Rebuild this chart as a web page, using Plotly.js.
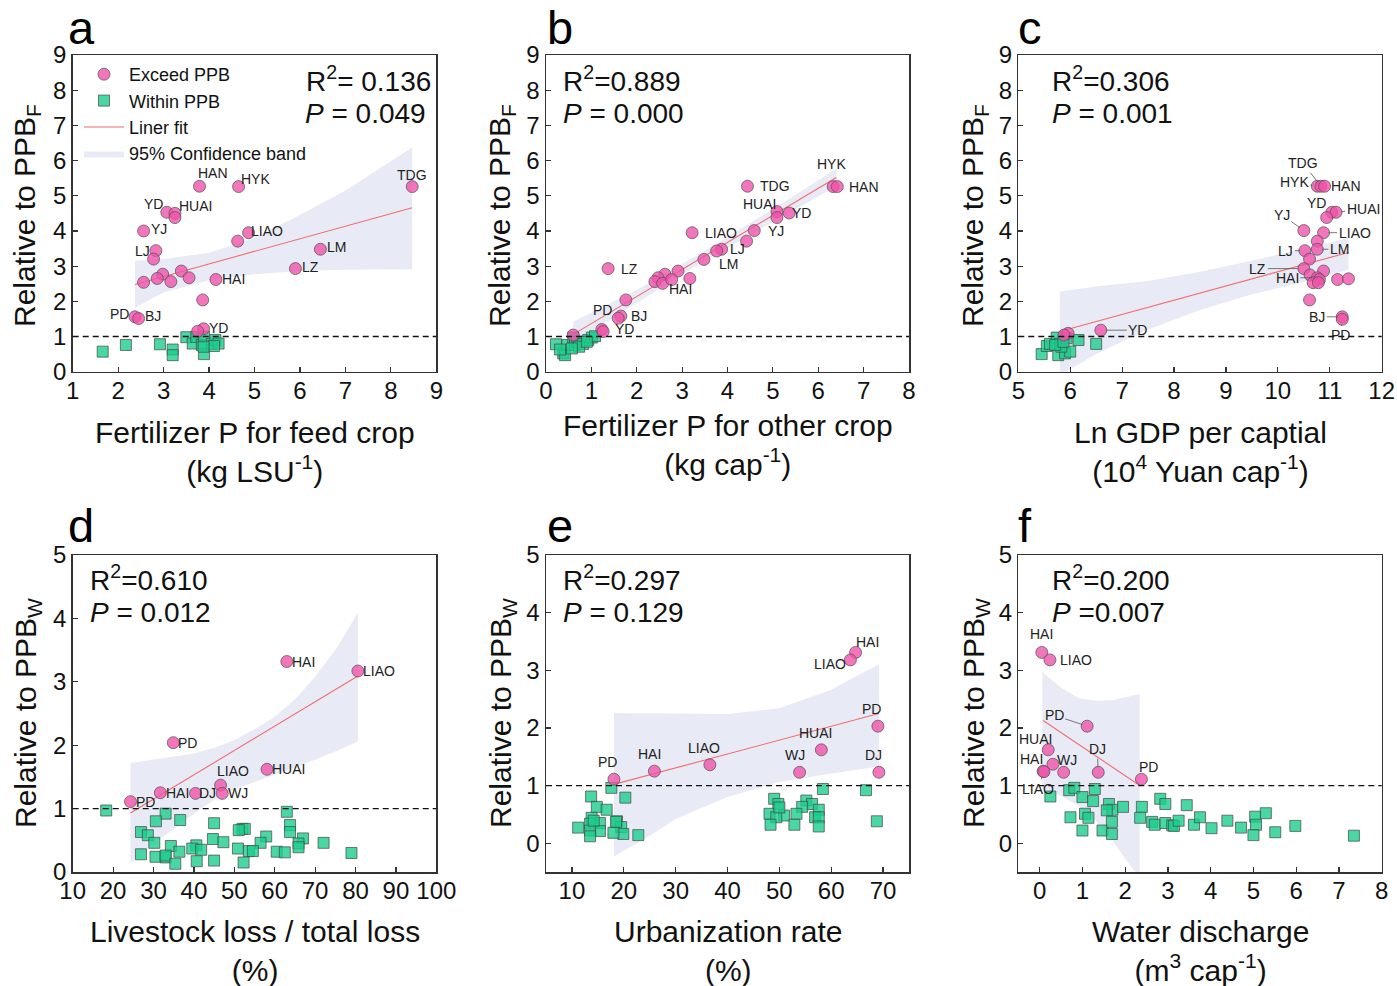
<!DOCTYPE html>
<html>
<head>
<meta charset="utf-8">
<script src="https://cdn.plot.ly/plotly-3.0.1.min.js"></script>
<style>html,body{margin:0;padding:0;background:#fff}#chart{width:1397px;height:986px}</style>
</head>
<body>
<div id="chart"></div>
<script>
// ---------------- DATA ----------------
// Panel a: Fertilizer P for feed crop
const aExName = ['HAN','HYK','TDG','YD','HUAI','','YJ','LIAO','','LM','LJ','','LZ','','','','','','','HAI','','PD','BJ','YD',''];
const aExX = [3.79,4.65,8.47,3.07,3.25,3.25,2.56,4.87,4.63,6.45,2.83,2.78,5.90,3.39,2.98,2.86,3.56,3.16,2.56,4.15,3.86,2.37,2.45,3.88,3.75];
const aExY = [5.27,5.26,5.26,4.53,4.50,4.38,4.00,3.95,3.71,3.48,3.44,3.20,2.93,2.86,2.77,2.65,2.67,2.56,2.54,2.62,2.04,1.56,1.51,1.22,1.15];
const aWiX = [1.66,2.17,2.92,3.20,3.20,3.50,3.64,3.72,3.84,3.89,3.89,4.06,4.14,4.21,4.11,3.88];
const aWiY = [0.57,0.76,0.78,0.63,0.47,0.98,0.80,0.99,0.76,0.99,0.50,0.79,0.90,0.80,0.73,0.71];
const aFitX = [2.37,8.47], aFitY = [2.48,4.66];
const aBandX = [2.37,3,4,5,6,7,8.47];
const aBandHi = [3.15,3.20,3.38,3.80,4.45,5.15,6.37];
const aBandLo = [1.82,2.25,2.60,2.77,2.86,2.90,2.91];

// Panel b: Fertilizer P for other crop
const bExName = ['HYK','HAN','TDG','HUAI','YD','','YJ','LIAO','','LJ','','LM','LZ','','','','','','','HAI','','BJ','PD','YD','',''];
const bExX = [6.33,6.42,4.44,5.09,5.36,5.09,4.59,3.22,4.42,3.87,3.76,3.48,1.37,2.91,2.62,2.47,2.40,2.57,2.77,3.17,1.76,1.65,1.59,1.23,1.26,0.60];
const bExY = [5.26,5.26,5.27,4.55,4.51,4.38,4.01,3.95,3.71,3.48,3.43,3.19,2.93,2.86,2.77,2.67,2.56,2.51,2.62,2.65,2.04,1.58,1.52,1.20,1.14,1.04];
const bWiX = [0.22,0.38,0.42,0.47,0.60,0.64,0.69,0.82,0.93,1.01,1.08,0.73,0.57,0.31,0.90];
const bWiY = [0.78,0.52,0.47,0.76,0.97,0.76,0.85,0.79,0.90,0.97,1.01,0.71,0.66,0.63,0.85];
const bFitX = [0.60,6.40], bFitY = [1.06,5.52];
const bBandX = [0.6,2,3.3,5,6.4];
const bBandHi = [1.42,2.32,3.28,4.62,5.77];
const bBandLo = [0.82,1.96,3.00,4.26,5.27];

// Panel c: Ln GDP per capita
const cExName = ['HYK','TDG','HAN','','HUAI','YD','YJ','LIAO','','LM','LJ','','LZ','','','HAI','','','','','','','BJ','PD','YD','',''];
const cExX = [10.76,10.83,10.90,11.04,11.12,10.94,10.50,10.88,10.76,10.76,10.52,10.61,10.50,10.88,10.62,10.76,10.80,10.68,10.78,11.15,11.36,10.61,11.24,11.24,6.59,5.96,5.88];
const cExY = [5.27,5.27,5.27,4.53,4.53,4.38,4.01,3.95,3.71,3.48,3.44,3.20,2.93,2.86,2.75,2.67,2.62,2.53,2.53,2.62,2.64,2.04,1.56,1.49,1.18,1.09,1.04];
const cWiX = [5.45,5.55,5.61,5.74,5.80,5.77,5.90,6.00,5.83,5.93,6.16,6.50,5.71,5.87];
const cWiY = [0.50,0.73,0.79,0.97,0.79,0.47,0.52,0.57,0.71,0.95,0.90,0.79,0.76,0.85];
const cFitX = [5.80,11.36], cFitY = [1.14,3.39];
const cBandX = [5.8,6.5,7.5,8.5,9.5,10.5,11.36];
const cBandHi = [2.28,2.42,2.58,2.84,3.15,3.50,3.80];
const cBandLo = [-0.10,0.50,1.20,1.75,2.20,2.55,2.90];

// Panel d: Livestock loss / total loss
const dExName = ['HAI','LIAO','PD','HUAI','LIAO','HAI','DJ','WJ','PD'];
const dExX = [63.0,80.6,34.9,58.1,46.6,31.7,40.4,47.0,24.3];
const dExY = [3.32,3.17,2.04,1.62,1.37,1.25,1.24,1.24,1.11];
const dWiX = [18.3,63.0,33.0,30.6,36.6,45.0,63.8,63.8,26.9,28.6,52.0,52.6,51.1,57.9,67.0,44.7,30.2,47.3,56.5,72.1,65.9,65.9,34.3,40.6,39.6,41.8,50.9,53.6,54.6,36.4,60.5,62.5,79.0,26.9,30.5,33.0,33.0,40.7,45.0,52.3,35.4];
const dWiY = [0.97,0.95,0.92,0.80,0.82,0.77,0.74,0.63,0.63,0.58,0.68,0.68,0.66,0.56,0.53,0.52,0.46,0.47,0.46,0.46,0.45,0.39,0.41,0.42,0.37,0.35,0.37,0.33,0.33,0.32,0.32,0.31,0.30,0.28,0.24,0.23,0.26,0.17,0.18,0.15,0.13];
const dFitX = [24.3,80.6], dFitY = [0.93,3.09];
const dBandX = [24.3,30,35,40,45,50,55,60,65,70,75,80.6];
const dBandHi = [1.72,1.77,1.82,1.87,1.96,2.08,2.25,2.45,2.72,3.08,3.50,4.09];
const dBandLo = [0.14,0.45,0.68,0.92,1.14,1.30,1.42,1.53,1.65,1.77,1.90,2.06];

// Panel e: Urbanization rate
const eExName = ['HAI','LIAO','PD','HUAI','LIAO','HAI','WJ','DJ','PD'];
const eExX = [64.7,63.7,69.0,58.1,36.6,25.9,53.9,69.2,18.1];
const eExY = [3.31,3.18,2.03,1.62,1.36,1.25,1.23,1.23,1.11];
const eWiX = [17.6,13.7,20.3,58.4,66.7,14.8,16.7,49.0,49.8,55.2,56.3,54.4,57.6,53.3,48.1,50.9,49.4,56.9,57.6,13.8,18.7,15.4,13.5,48.3,52.9,57.6,68.8,11.2,15.4,13.5,19.5,19.9,18.0,22.8,13.5,18.5,14.2,50.0];
const eWiY = [0.96,0.81,0.79,0.94,0.92,0.63,0.58,0.77,0.68,0.74,0.68,0.63,0.58,0.51,0.51,0.48,0.45,0.45,0.45,0.44,0.38,0.35,0.34,0.32,0.32,0.29,0.38,0.27,0.21,0.22,0.28,0.16,0.18,0.14,0.12,0.37,0.39,0.62];
const eFitX = [18.1,69.2], eFitY = [1.02,2.25];
const eBandX = [18.1,25,30,40,50,60,69.2];
const eBandHi = [2.26,2.26,2.25,2.24,2.34,2.66,3.11];
const eBandLo = [-0.23,0.13,0.42,0.80,1.06,1.21,1.33];

// Panel f: Water discharge
const fExName = ['HAI','LIAO','PD','HUAI','WJ','','HAI','DJ','PD','LIAO'];
const fExX = [0.05,0.24,1.11,0.20,0.31,0.56,0.08,1.37,2.38,0.10];
const fExY = [3.31,3.18,2.03,1.62,1.37,1.23,1.25,1.23,1.11,1.24];
const fWiX = [0.25,0.69,0.81,1.29,1.00,1.25,1.62,1.70,1.57,1.95,2.39,2.82,2.94,3.44,0.72,1.06,1.14,2.35,2.63,2.69,2.94,3.10,3.14,3.25,3.61,3.75,4.02,4.39,4.71,5.04,5.06,5.00,5.29,5.51,5.98,7.35,1.00,1.47,1.69,1.69];
const fWiY = [0.81,0.92,0.96,0.94,0.80,0.73,0.68,0.58,0.57,0.63,0.63,0.77,0.68,0.66,0.45,0.51,0.44,0.44,0.37,0.32,0.35,0.31,0.30,0.39,0.32,0.45,0.26,0.39,0.27,0.46,0.32,0.14,0.52,0.19,0.30,0.13,0.22,0.22,0.37,0.16];
const fFitX = [0.08,2.34], fFitY = [2.13,1.00];
const fBandX = [0.06,0.5,0.9,1.3,1.7,2.0,2.34];
const fBandHi = [2.97,2.70,2.52,2.47,2.48,2.53,2.59];
const fBandLo = [0.94,0.82,0.65,0.40,0.05,-0.27,-0.60];

const statR2 = ['R<sup>2</sup>= 0.136','R<sup>2</sup>=0.889','R<sup>2</sup>=0.306','R<sup>2</sup>=0.610','R<sup>2</sup>=0.297','R<sup>2</sup>=0.200'];
const statP  = ['<i>P</i> = 0.049','<i>P</i> = 0.000','<i>P</i> = 0.001','<i>P</i> = 0.012','<i>P</i> = 0.129','<i>P</i> =0.007'];
const panelLetters = ['a','b','c','d','e','f'];
const xTitles = ['Fertilizer P for feed crop<br>(kg LSU<sup>-1</sup>)','Fertilizer P for other crop<br>(kg cap<sup>-1</sup>)','Ln GDP per captial<br>(10<sup>4</sup> Yuan cap<sup>-1</sup>)','Livestock loss / total loss<br>(%)','Urbanization rate<br>(%)','Water discharge<br>(m<sup>3</sup> cap<sup>-1</sup>)'];
const yTitles = ['Relative to PPB<sub>F</sub>','Relative to PPB<sub>W</sub>'];
const legendNames = ['Exceed PPB','Within PPB','Liner fit','95% Confidence band'];

// ---------------- STYLE / LAYOUT ----------------
const W = 1397, H = 986;
const FONT = 'Liberation Sans, Arial, sans-serif';
const PX = v => v / W, PY = v => 1 - v / H;
const colDom = [[72.7,436.3],[546,909],[1018.3,1381.7]];
const rowDom = [[55,371.7],[555,872]];
const PINK = 'rgba(240,82,170,0.80)', GREEN = 'rgba(28,205,140,0.80)';
const BAND = 'rgba(214,219,236,0.55)';

const panels = [
  {ex:[aExX,aExY,aExName], wi:[aWiX,aWiY], fit:[aFitX,aFitY], band:[aBandX,aBandLo,aBandHi], xr:[1,9], yr:[0,9], xt0:1, xdt:1,
   labels:{0:[13,-13],1:[17,-8],2:[0,-12],3:[-13,-8],4:[21,-7],6:[15,-2],7:[18,-2],9:[16,-2],10:[-13,0],12:[15,-2],19:[18,-1],21:[-15,-3],22:[14,-3],23:[15,-1]}},
  {ex:[bExX,bExY,bExName], wi:[bWiX,bWiY], fit:[bFitX,bFitY], band:[bBandX,bBandLo,bBandHi], xr:[0,8], yr:[0,9], xt0:0, xdt:1,
   labels:{0:[-2,-23],1:[27,0],2:[28,0],3:[-17,-8],4:[12,0],6:[22,0],7:[29,0],9:[16,0],11:[25,5],12:[21,0],19:[-9,11],21:[18,0],22:[-16,-8],23:[23,0]}},
  {ex:[cExX,cExY,cExName], wi:[cWiX,cWiY], fit:[cFitX,cFitY], band:[cBandX,cBandLo,cBandHi], xr:[5,12], yr:[0,9], xt0:5, xdt:1,
   labels:{0:[-23,-4,1],1:[-18,-23,1],2:[21,0],4:[27,-3,1],5:[-10,-15],6:[-22,-16,1],7:[31,0,1],9:[22,0,1],10:[-19,0,1],12:[-46,0,1],15:[-30,0,1],22:[-25,0,1],23:[-2,16,1],24:[37,0,1]}},
  {ex:[dExX,dExY,dExName], wi:[dWiX,dWiY], fit:[dFitX,dFitY], band:[dBandX,dBandLo,dBandHi], xr:[10,100], yr:[0,5], xt0:10, xdt:10,
   labels:{0:[17,0],1:[21,0],2:[14,0],3:[21,0],4:[12,-14],5:[17,0],6:[12,0],7:[16,0],8:[15,0]}},
  {ex:[eExX,eExY,eExName], wi:[eWiX,eWiY], fit:[eFitX,eFitY], band:[eBandX,eBandLo,eBandHi], xr:[5,75], yr:[-0.5,5], xt0:10, xdt:10,
   labels:{0:[12,-10],1:[-20,4],2:[-6,-17],3:[-6,-17],4:[-6,-17],5:[-5,-17],6:[-5,-17],7:[-5,-17],8:[-6,-17]}},
  {ex:[fExX,fExY,fExName], wi:[fWiX,fWiY], fit:[fFitX,fFitY], band:[fBandX,fBandLo,fBandHi], xr:[-0.5,8], yr:[-0.5,5], xt0:0, xdt:1,
   labels:{0:[0,-18],1:[26,0],2:[-33,-11,1],3:[-13,-11,1],4:[14,-4],6:[-12,-12,1],7:[-1,-23,1],8:[7,-12],9:[-6,17,1]}}
];

const traces = [];
const annotations = [];
const shapes = [];
const layout = {
  width: W, height: H, margin: {l:0,r:0,t:0,b:0},
  paper_bgcolor: '#fff', plot_bgcolor: '#fff',
  font: {family: FONT, color: '#111'},
  showlegend: true,
  legend: {x: PX(79), y: PY(56), xanchor: 'left', yanchor: 'top', bgcolor: 'rgba(0,0,0,0)',
           font: {family: FONT, size: 18, color: '#111'}, tracegroupgap: 0, itemwidth: 40},
  annotations: annotations, shapes: shapes
};

panels.forEach((p, k) => {
  const n = k + 1;
  const xa = 'x' + (n === 1 ? '' : n), ya = 'y' + (n === 1 ? '' : n);
  const col = k % 3, row = Math.floor(k / 3);
  const axBase = {showline: true, mirror: true, linecolor: '#333', linewidth: 1.5,
    ticks: 'inside', ticklen: 5, tickwidth: 1.2, tickcolor: '#333', showgrid: false, zeroline: false,
    tickfont: {family: FONT, size: 24, color: '#111'}, automargin: false, fixedrange: true};
  layout['xaxis' + (n === 1 ? '' : n)] = Object.assign({}, axBase, {
    domain: [PX(colDom[col][0]), PX(colDom[col][1])], range: p.xr, tick0: p.xt0, dtick: p.xdt, anchor: ya,
    ticklabelstandoff: -3});
  layout['yaxis' + (n === 1 ? '' : n)] = Object.assign({}, axBase, {
    domain: [PY(rowDom[row][1]), PY(rowDom[row][0])], range: p.yr, tick0: 0, dtick: 1, anchor: xa});

  const [bx, blo, bhi] = p.band;
  const polyX = bx.concat(bx.slice().reverse());
  const polyY = blo.concat(bhi.slice().reverse());
  traces.push({type: 'scatter', mode: 'lines', x: polyX, y: polyY, xaxis: xa, yaxis: ya,
    fill: 'toself', fillcolor: BAND, line: {width: 0, color: BAND}, hoverinfo: 'skip',
    name: legendNames[3], showlegend: k === 0, legendrank: 4});
  traces.push({type: 'scatter', mode: 'lines', x: p.fit[0], y: p.fit[1], xaxis: xa, yaxis: ya,
    line: {color: '#f26d6d', width: 1.1}, name: legendNames[2], showlegend: k === 0, legendrank: 3});
  traces.push({type: 'scatter', mode: 'markers', x: p.wi[0], y: p.wi[1], xaxis: xa, yaxis: ya,
    marker: {symbol: 'square', size: 11, color: GREEN, line: {color: 'rgba(70,70,70,0.7)', width: 1}},
    name: legendNames[1], showlegend: k === 0, legendrank: 2});
  traces.push({type: 'scatter', mode: 'markers', x: p.ex[0], y: p.ex[1], xaxis: xa, yaxis: ya,
    marker: {symbol: 'circle', size: 12, color: PINK, line: {color: 'rgba(80,80,80,0.7)', width: 1}},
    name: legendNames[0], showlegend: k === 0, legendrank: 1});

  // dashed reference line at 1
  shapes.push({type: 'line', xref: xa + ' domain', x0: 0, x1: 1, yref: ya, y0: 1, y1: 1,
    line: {color: '#111', width: 1.3, dash: '6px,4px'}});

  // point labels
  Object.keys(p.labels).forEach(key => {
    const i = +key, o = p.labels[key];
    const base = {xref: xa, yref: ya, x: p.ex[0][i], y: p.ex[1][i], text: p.ex[2][i],
      font: {family: FONT, size: 14, color: '#222'}};
    if (o[2]) {
      annotations.push(Object.assign(base, {showarrow: true, arrowhead: 0, arrowwidth: 0.8,
        arrowcolor: '#555', ax: o[0], ay: o[1], standoff: 5}));
    } else {
      annotations.push(Object.assign(base, {showarrow: false, xshift: o[0], yshift: -o[1]}));
    }
  });

  // statistics
  const top = row === 0 ? [79, 114] : [578, 612];
  const leftX = [561, 561, 1050, 88, 561, 1050][k];
  const sfont = {family: FONT, size: 28, color: '#111'};
  if (k === 0) {
    annotations.push({xref: 'paper', yref: 'paper', x: PX(433), y: PY(top[0]), xanchor: 'right', yanchor: 'middle',
      text: statR2[k], showarrow: false, font: sfont});
    annotations.push({xref: 'paper', yref: 'paper', x: PX(428), y: PY(top[1]), xanchor: 'right', yanchor: 'middle',
      text: statP[k], showarrow: false, font: sfont});
  } else {
    annotations.push({xref: 'paper', yref: 'paper', x: PX(leftX), y: PY(top[0]), xanchor: 'left', yanchor: 'middle',
      text: statR2[k], showarrow: false, font: sfont});
    annotations.push({xref: 'paper', yref: 'paper', x: PX(leftX), y: PY(top[1]), xanchor: 'left', yanchor: 'middle',
      text: statP[k], showarrow: false, font: sfont});
  }

  // panel letter
  annotations.push({xref: 'paper', yref: 'paper', x: PX([66, 545, 1016][col]), y: PY([28, 525][row]),
    xanchor: 'left', yanchor: 'middle', text: panelLetters[k], showarrow: false,
    font: {family: FONT, size: 47, color: '#000'}});

  // x title
  const xc = (colDom[col][0] + colDom[col][1]) / 2;
  const xty = row === 0 ? (k === 1 ? 445 : 452) : 951;
  annotations.push({xref: 'paper', yref: 'paper', x: PX(xc), y: PY(xty), xanchor: 'center', yanchor: 'middle',
    text: xTitles[k], showarrow: false, font: {family: FONT, size: 30, color: '#111'}});
  // y title
  annotations.push({xref: 'paper', yref: 'paper', x: PX([27, 502, 975][col]), y: PY(row === 0 ? 216 : 713),
    xanchor: 'center', yanchor: 'middle', textangle: -90, text: yTitles[row], showarrow: false,
    font: {family: FONT, size: 30, color: '#111'}});
});

Plotly.newPlot('chart', traces, layout, {staticPlot: true, displayModeBar: false});
</script>
</body>
</html>
